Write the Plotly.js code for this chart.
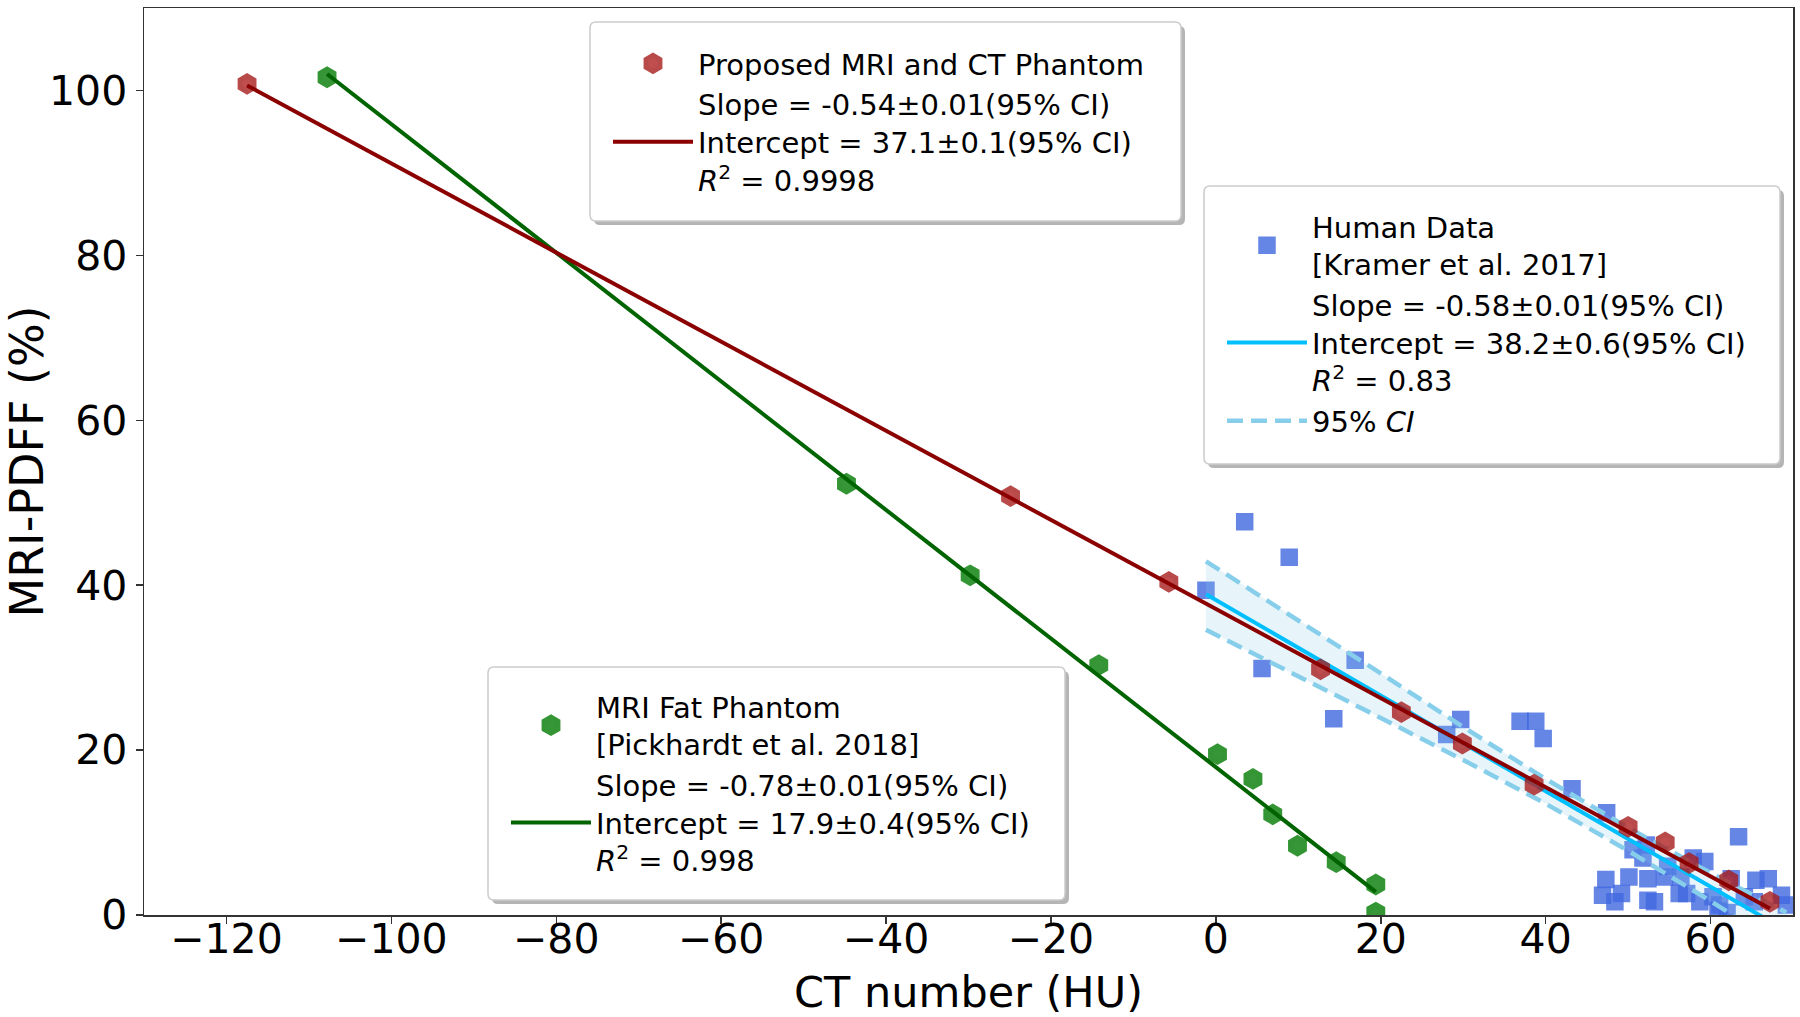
<!DOCTYPE html>
<html>
<head>
<meta charset="utf-8">
<script src="https://cdn.plot.ly/plotly-3.0.1.min.js"></script>
<style>
html,body{margin:0;padding:0;background:#fff;}
#chart{width:1800px;height:1017px;}
</style>
</head>
<body>
<div id="chart"></div>
<script>
// ---- Proposed MRI and CT Phantom ----
const propX = [-117.5, -24.9, -5.7, 12.7, 22.5, 29.9, 38.6, 50.0, 54.5, 57.4, 62.2, 67.2];
const propY = [100.8, 50.8, 40.4, 29.8, 24.6, 20.8, 15.8, 10.7, 8.8, 6.3, 4.2, 1.6];
const propFitX = [-117.5, 67.2];
const propFitY = [100.6, 0.8];

// ---- MRI Fat Phantom [Pickhardt et al. 2018] ----
const fatX = [-107.8, -44.8, -29.8, -14.2, 0.2, 4.5, 6.9, 9.9, 14.6, 19.4, 19.4];
const fatY = [101.6, 52.3, 41.2, 30.3, 19.5, 16.5, 12.2, 8.4, 6.4, 3.7, 0.3];
const fatFitX = [-107.8, 19.4];
const fatFitY = [102.0, 2.8];

// ---- Human Data [Kramer et al. 2017] ----
const humanX = [-1.2, 3.5, 8.9, 5.6, 16.9, 14.3, 28.0, 29.7, 36.9, 38.8, 39.7, 43.2, 47.4, 63.4,
  50.6, 52.2, 51.8, 50.1, 52.4, 47.3, 46.9, 49.2, 48.4, 52.4, 53.2, 54.4, 54.8, 56.2, 56.4,
  59.3, 57.9, 62.5, 65.5, 67.0, 68.6, 69.2, 57.1, 58.7, 61.1, 60.3, 64.1, 65.3, 60.9, 62.0];
const humanY = [39.4, 47.7, 43.4, 29.9, 30.9, 23.8, 21.9, 23.7, 23.5, 23.5, 21.4, 15.3, 12.4, 9.5,
  7.9, 8.5, 6.9, 4.6, 4.4, 4.3, 2.4, 2.6, 1.6, 1.8, 1.6, 4.6, 5.9, 2.6, 4.6,
  6.5, 6.9, 4.4, 4.2, 4.4, 2.4, 1.2, 2.6, 1.6, 1.2, 2.2, 2.2, 1.6, 0.5, 0.3];
const humanFitX = [-1.2, 69.2];
const humanFitY = [38.9, -1.9];
const ciX = [-1.2, 10, 20, 30, 40, 50, 60, 69.2];
const ciUpper = [42.9, 35.8, 29.3, 22.8, 16.5, 10.6, 5.1, 0.3];
const ciLower = [34.6, 29.0, 23.9, 18.8, 13.5, 7.8, 1.7, -4.2];

// ---- labels ----
const propLabel = 'Proposed MRI and CT Phantom';
const propFitLabel = 'Slope = -0.54±0.01(95% CI)<br>Intercept = 37.1±0.1(95% CI)<br><i>R</i><sup>2</sup> = 0.9998';
const humanLabel = 'Human Data<br>[Kramer et al. 2017]';
const humanFitLabel = 'Slope = -0.58±0.01(95% CI)<br>Intercept = 38.2±0.6(95% CI)<br><i>R</i><sup>2</sup> = 0.83';
const ciLabel = '95% <i>CI</i>';
const fatLabel = 'MRI Fat Phantom<br>[Pickhardt et al. 2018]';
const fatFitLabel = 'Slope = -0.78±0.01(95% CI)<br>Intercept = 17.9±0.4(95% CI)<br><i>R</i><sup>2</sup> = 0.998';
const xTicks = [-120, -100, -80, -60, -40, -20, 0, 20, 40, 60];
const yTicks = [0, 20, 40, 60, 80, 100];

// ---- layout helpers ----
const FONT = 'DejaVu Sans, Verdana, sans-serif';
const W = 1800, H = 1017;
const M = {l: 144, r: 7, t: 8, b: 102};
const PW = W - M.l - M.r, PH = H - M.t - M.b;
const PX = p => (p - M.l) / PW;
const PY = p => (H - M.b - p) / PH;
function rr(x0, y0, x1, y1, r) {
  return `M${PX(x0 + r)},${PY(y0)} L${PX(x1 - r)},${PY(y0)} Q${PX(x1)},${PY(y0)} ${PX(x1)},${PY(y0 + r)} ` +
         `L${PX(x1)},${PY(y1 - r)} Q${PX(x1)},${PY(y1)} ${PX(x1 - r)},${PY(y1)} ` +
         `L${PX(x0 + r)},${PY(y1)} Q${PX(x0)},${PY(y1)} ${PX(x0)},${PY(y1 - r)} ` +
         `L${PX(x0)},${PY(y0 + r)} Q${PX(x0)},${PY(y0)} ${PX(x0 + r)},${PY(y0)} Z`;
}
const frames = [[590, 22, 1181, 221], [1204, 186, 1780, 464], [488, 667, 1065, 900]];
const shapes = [];
frames.forEach(f => {
  shapes.push({type: 'path', xref: 'paper', yref: 'paper', layer: 'above',
    path: rr(f[0] + 4, f[1] + 4, f[2] + 4, f[3] + 4, 6), fillcolor: 'rgba(120,120,120,0.55)', line: {width: 0}});
  shapes.push({type: 'path', xref: 'paper', yref: 'paper', layer: 'above',
    path: rr(f[0], f[1], f[2], f[3], 6), fillcolor: '#ffffff', line: {color: '#cccccc', width: 1.5}});
});

const dashCI = {color: '#87CEEB', width: 4.5, dash: '16px,8px'};
const traces = [
  {x: humanX, y: humanY, mode: 'markers', type: 'scatter', name: humanLabel, legend: 'legend2', legendrank: 1,
   marker: {symbol: 'square', size: 13, color: 'royalblue', opacity: 0.8, line: {color: 'royalblue', width: 4.5}}},
  {x: ciX, y: ciLower, mode: 'lines', type: 'scatter', showlegend: false, line: {width: 0}, hoverinfo: 'skip'},
  {x: ciX, y: ciUpper, mode: 'lines', type: 'scatter', showlegend: false, line: {width: 0}, fill: 'tonexty',
   fillcolor: 'rgba(135,206,235,0.2)', hoverinfo: 'skip'},
  {x: ciX, y: ciUpper, mode: 'lines', type: 'scatter', name: ciLabel, legend: 'legend2', legendrank: 3, line: dashCI},
  {x: ciX, y: ciLower, mode: 'lines', type: 'scatter', showlegend: false, line: dashCI},
  {x: humanFitX, y: humanFitY, mode: 'lines', type: 'scatter', name: humanFitLabel, legend: 'legend2', legendrank: 2,
   line: {color: '#00BFFF', width: 4}},
  {x: fatX, y: fatY, mode: 'markers', type: 'scatter', name: fatLabel, legend: 'legend3', legendrank: 1,
   marker: {symbol: 'hexagon', size: 16, color: 'forestgreen', opacity: 0.9, line: {color: '#1f8a1f', width: 5}}},
  {x: fatFitX, y: fatFitY, mode: 'lines', type: 'scatter', name: fatFitLabel, legend: 'legend3', legendrank: 2,
   line: {color: '#006400', width: 4}},
  {x: propX, y: propY, mode: 'markers', type: 'scatter', name: propLabel, legend: 'legend', legendrank: 1,
   marker: {symbol: 'hexagon', size: 16, color: 'firebrick', opacity: 0.8, line: {color: '#a81e1e', width: 5}}},
  {x: propFitX, y: propFitY, mode: 'lines', type: 'scatter', name: propFitLabel, legend: 'legend', legendrank: 2,
   line: {color: '#8B0000', width: 4}}
];

const legBase = {xanchor: 'left', yanchor: 'top', bgcolor: 'rgba(0,0,0,0)', borderwidth: 0,
  font: {family: FONT, size: 29, color: '#000'}, itemwidth: 80, tracegroupgap: 0, traceorder: 'normal'};

const axisBase = {
  showline: true, mirror: true, linecolor: '#333333', linewidth: 1.5,
  showgrid: false, zeroline: false, ticks: 'outside', ticklen: 7, tickwidth: 1.5, tickcolor: '#333333',
  tickfont: {family: FONT, size: 41, color: '#000'}
};

const layout = {
  width: W, height: H,
  margin: {l: M.l, r: M.r, t: M.t, b: M.b},
  paper_bgcolor: '#ffffff', plot_bgcolor: '#ffffff',
  font: {family: FONT, color: '#000'},
  showlegend: true,
  xaxis: Object.assign({}, axisBase, {range: [-130, 70], tickvals: xTicks, automargin: false, ticklabelstandoff: -20,
    title: {text: 'CT number (HU)', font: {family: FONT, size: 43, color: '#000'}, standoff: 16}}),
  yaxis: Object.assign({}, axisBase, {range: [0, 110], tickvals: yTicks, automargin: false,
    title: {text: 'MRI-PDFF (%)', font: {family: FONT, size: 46, color: '#000'}, standoff: 8}}),
  legend: Object.assign({}, legBase, {x: PX(608), y: PY(38)}),
  legend2: Object.assign({}, legBase, {x: PX(1222), y: PY(201)}),
  legend3: Object.assign({}, legBase, {x: PX(506), y: PY(681)}),
  shapes: shapes
};

Plotly.newPlot('chart', traces, layout, {staticPlot: true, displayModeBar: false});
</script>
</body>
</html>
